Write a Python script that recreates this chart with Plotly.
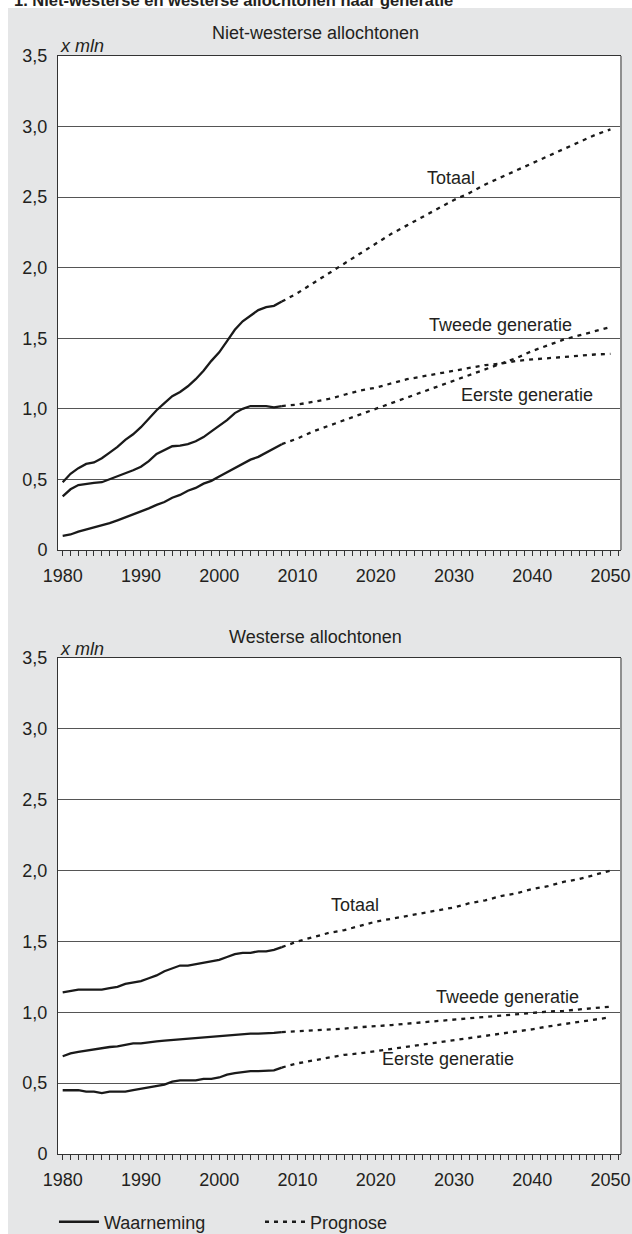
import plotly.graph_objects as go

# ---------------- data ----------------
obs_years = list(range(1980, 2009))
prog_years = list(range(2008, 2051, 2))

# Niet-westerse allochtonen (x mln)
nw_totaal_obs = [0.48, 0.54, 0.58, 0.61, 0.62, 0.65, 0.69, 0.73, 0.78, 0.82, 0.87, 0.93, 0.99, 1.04, 1.09,
                 1.12, 1.16, 1.21, 1.27, 1.34, 1.40, 1.48, 1.56, 1.62, 1.66, 1.70, 1.72, 1.73, 1.76]
nw_eerste_obs = [0.38, 0.43, 0.46, 0.47, 0.475, 0.48, 0.50, 0.52, 0.54, 0.565, 0.59, 0.63, 0.68, 0.71, 0.735,
                 0.74, 0.75, 0.77, 0.80, 0.84, 0.88, 0.92, 0.97, 1.00, 1.02, 1.02, 1.02, 1.01, 1.02]
nw_tweede_obs = [0.10, 0.11, 0.13, 0.145, 0.16, 0.17, 0.19, 0.21, 0.23, 0.25, 0.27, 0.295, 0.32, 0.34, 0.37,
                 0.39, 0.42, 0.44, 0.47, 0.49, 0.52, 0.55, 0.58, 0.61, 0.64, 0.66, 0.69, 0.72, 0.75]
nw_totaal_prog = [1.76, 1.82, 1.89, 1.96, 2.03, 2.10, 2.17, 2.24, 2.30, 2.36, 2.42, 2.48, 2.53, 2.59, 2.64,
                  2.69, 2.74, 2.79, 2.84, 2.89, 2.94, 2.98]
nw_eerste_prog = [1.02, 1.03, 1.05, 1.07, 1.10, 1.13, 1.15, 1.18, 1.21, 1.23, 1.25, 1.27, 1.29, 1.31, 1.32,
                  1.34, 1.35, 1.36, 1.37, 1.38, 1.385, 1.39]
nw_tweede_prog = [0.75, 0.79, 0.84, 0.88, 0.92, 0.96, 1.00, 1.04, 1.08, 1.12, 1.16, 1.20, 1.24, 1.28, 1.32,
                  1.36, 1.41, 1.45, 1.49, 1.52, 1.55, 1.58]

# Westerse allochtonen (x mln)
w_totaal_obs = [1.14, 1.15, 1.16, 1.16, 1.16, 1.16, 1.17, 1.18, 1.20, 1.21, 1.22, 1.24, 1.26, 1.29, 1.31,
                1.33, 1.33, 1.34, 1.35, 1.36, 1.37, 1.39, 1.41, 1.42, 1.42, 1.43, 1.43, 1.44, 1.46]
w_tweede_obs = [0.69, 0.71, 0.72, 0.73, 0.74, 0.75, 0.755, 0.76, 0.77, 0.78, 0.78, 0.79, 0.795, 0.80, 0.805,
                0.81, 0.815, 0.82, 0.825, 0.83, 0.835, 0.84, 0.84, 0.845, 0.85, 0.85, 0.85, 0.855, 0.86]
w_eerste_obs = [0.45, 0.45, 0.45, 0.44, 0.44, 0.43, 0.44, 0.44, 0.44, 0.45, 0.46, 0.47, 0.48, 0.49, 0.51,
                0.52, 0.52, 0.52, 0.53, 0.53, 0.54, 0.56, 0.57, 0.58, 0.585, 0.585, 0.585, 0.59, 0.61]
w_totaal_prog = [1.46, 1.50, 1.53, 1.56, 1.58, 1.61, 1.64, 1.66, 1.68, 1.70, 1.72, 1.74, 1.77, 1.79, 1.82,
                 1.84, 1.87, 1.89, 1.92, 1.94, 1.97, 2.00]
w_tweede_prog = [0.86, 0.865, 0.87, 0.88, 0.885, 0.895, 0.90, 0.91, 0.92, 0.93, 0.94, 0.95, 0.955, 0.965,
                 0.975, 0.985, 0.995, 1.005, 1.01, 1.02, 1.03, 1.04]
w_eerste_prog = [0.61, 0.64, 0.66, 0.68, 0.70, 0.71, 0.725, 0.74, 0.755, 0.77, 0.79, 0.80, 0.82, 0.83, 0.85,
                 0.865, 0.88, 0.90, 0.915, 0.93, 0.95, 0.965]

x_tickvals = list(range(1980, 2051, 10))
x_ticktext = [str(v) for v in x_tickvals]
y_tickvals = [0, 0.5, 1.0, 1.5, 2.0, 2.5, 3.0, 3.5]
y_ticktext = ["0", "0,5", "1,0", "1,5", "2,0", "2,5", "3,0", "3,5"]

# curve labels: (text, year, value)
nw_labels = [("Totaal", 2029.6, 2.635), ("Tweede generatie", 2035.9, 1.594), ("Eerste generatie", 2039.4, 1.098)]
w_labels = [("Totaal", 2017.4, 1.757), ("Tweede generatie", 2036.8, 1.106), ("Eerste generatie", 2029.2, 0.67)]

# ---------------- styling ----------------
FONT = "Liberation Sans, Arial, Helvetica, sans-serif"
TXT = "#231f20"
LINE = "#1a1a1a"
GRID = "#555555"
BG = "#e5e6e7"
FS = 18

fig = go.Figure()

def add_panel(xa, ya, obs, prog, legend):
    for i, ys in enumerate(obs):
        fig.add_trace(go.Scatter(x=obs_years, y=ys, xaxis=xa, yaxis=ya, mode="lines",
                                 line=dict(color=LINE, width=2.3),
                                 name="Waarneming", legendgroup="obs",
                                 showlegend=(legend and i == 0), hoverinfo="skip"))
    for i, ys in enumerate(prog):
        fig.add_trace(go.Scatter(x=prog_years, y=ys, xaxis=xa, yaxis=ya, mode="lines",
                                 line=dict(color=LINE, width=2.3, dash="4px,5px"),
                                 name="Prognose", legendgroup="prog",
                                 showlegend=(legend and i == 0), hoverinfo="skip"))

add_panel("x", "y", [nw_totaal_obs, nw_eerste_obs, nw_tweede_obs],
          [nw_totaal_prog, nw_eerste_prog, nw_tweede_prog], True)
add_panel("x2", "y2", [w_totaal_obs, w_tweede_obs, w_eerste_obs],
          [w_totaal_prog, w_tweede_prog, w_eerste_prog], False)

xaxis_common = dict(
    range=[1979.4, 2051.35], tickmode="array", tickvals=x_tickvals, ticktext=x_ticktext,
    ticks="outside", ticklen=5, tickwidth=1, tickcolor="#333333",
    minor=dict(ticks="outside", dtick=1, tick0=1980, ticklen=5, tickwidth=1, tickcolor="#333333", showgrid=False),
    showgrid=False, zeroline=False, showline=True, linecolor="#333333", linewidth=1, mirror=True,
    tickfont=dict(family=FONT, size=FS, color=TXT), ticklabelstandoff=4, fixedrange=True,
    automargin=False,
)
yaxis_common = dict(
    range=[0, 3.5], tickmode="array", tickvals=y_tickvals, ticktext=y_ticktext,
    ticks="", showgrid=True, gridcolor=GRID, gridwidth=1, zeroline=False,
    showline=True, linecolor="#333333", linewidth=1,
    tickfont=dict(family=FONT, size=FS, color=TXT), ticklabelstandoff=6, fixedrange=True,
    automargin=False,
)

annotations = []
for txt, xv, yv in nw_labels:
    annotations.append(dict(text=txt, x=xv, y=yv, xref="x", yref="y", showarrow=False,
                            font=dict(family=FONT, size=FS, color=TXT)))
for txt, xv, yv in w_labels:
    annotations.append(dict(text=txt, x=xv, y=yv, xref="x2", yref="y2", showarrow=False,
                            font=dict(family=FONT, size=FS, color=TXT)))

# panel titles and units
annotations += [
    dict(text="Niet-westerse allochtonen", x=0.4565, y=1.0205, xref="paper", yref="paper",
         showarrow=False, xanchor="center", yanchor="middle", font=dict(family=FONT, size=FS, color=TXT)),
    dict(text="Westerse allochtonen", x=0.4565, y=0.4709, xref="paper", yref="paper",
         showarrow=False, xanchor="center", yanchor="middle", font=dict(family=FONT, size=FS, color=TXT)),
    dict(text="<i>x mln</i>", x=0.0, y=1.0091, xref="paper", yref="paper",
         showarrow=False, xanchor="left", yanchor="middle", font=dict(family=FONT, size=FS, color=TXT)),
    dict(text="<i>x mln</i>", x=0.0, y=0.4599, xref="paper", yref="paper",
         showarrow=False, xanchor="left", yanchor="middle", font=dict(family=FONT, size=FS, color=TXT)),
    dict(text="<b>1. Niet-westerse en westerse allochtonen naar generatie</b>", x=-0.0817, y=1.051,
         xref="paper", yref="paper", showarrow=False, xanchor="left", yanchor="middle",
         font=dict(family=FONT, size=16.5, color=TXT)),
]

shapes = [
    # right frame lines (lighter grey)
    dict(type="line", xref="x domain", yref="y domain", x0=1, x1=1, y0=0, y1=1,
         line=dict(color="#8f8f8f", width=2)),
    dict(type="line", xref="x2 domain", yref="y2 domain", x0=1, x1=1, y0=0, y1=1,
         line=dict(color="#8f8f8f", width=2)),
    # white margins outside the grey panel
    dict(type="rect", xref="paper", yref="paper", x0=-0.2, x1=-0.0888, y0=-0.2, y1=1.2,
         fillcolor="white", line=dict(width=0), layer="above"),
    dict(type="rect", xref="paper", yref="paper", x0=-0.2, x1=1.2, y0=1.0437, y1=1.2,
         fillcolor="white", line=dict(width=0), layer="above"),
]

fig.update_layout(
    width=632, height=1234,
    margin=dict(l=58, r=11, t=56, b=80, autoexpand=False),
    paper_bgcolor=BG, plot_bgcolor="white",
    xaxis=dict(domain=[0, 1], anchor="y", **xaxis_common),
    yaxis=dict(domain=[0.5501, 1], anchor="x", **yaxis_common),
    xaxis2=dict(domain=[0, 1], anchor="y2", **xaxis_common),
    yaxis2=dict(domain=[0, 0.4517], anchor="x2", **yaxis_common),
    showlegend=True,
    legend=dict(orientation="h", xref="container", yref="container", x=0.0854, y=0.0097,
                xanchor="left", yanchor="middle",
                bgcolor="rgba(0,0,0,0)", font=dict(family=FONT, size=FS, color=TXT),
                itemwidth=40, entrywidth=151, entrywidthmode="pixels"),
    annotations=annotations,
    shapes=shapes,
    font=dict(family=FONT, size=FS, color=TXT),
)

fig.write_html("out.html", config={"displayModeBar": False},
               post_script="document.body.style.margin='0px';document.body.style.padding='0px';"
                           "document.body.style.overflow='hidden';"
                           "document.documentElement.style.overflow='hidden';")
